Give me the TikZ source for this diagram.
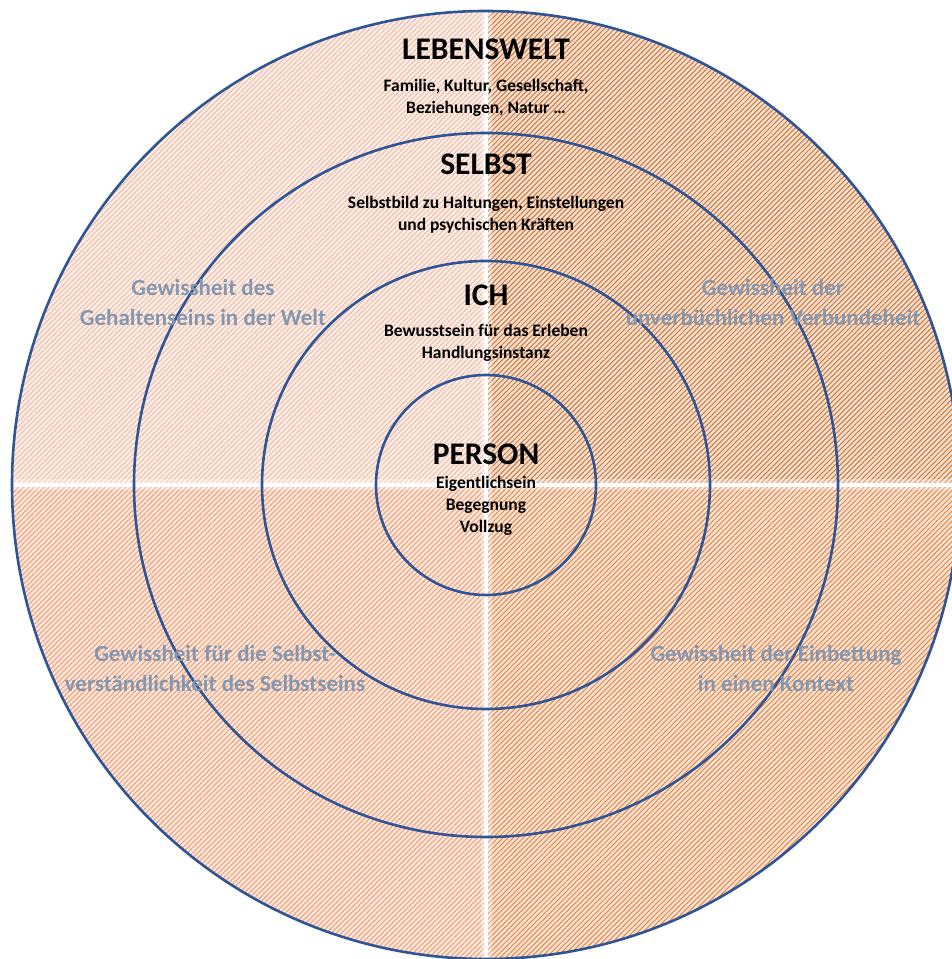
\documentclass[tikz,border=0pt]{standalone}
\usepackage{fontspec}
\setmainfont{Carlito}
\usetikzlibrary{patterns.meta}
\definecolor{ringblue}{HTML}{2F5597}
\definecolor{greytext}{HTML}{8497B0}
\definecolor{tlbg}{HTML}{FCEFE9}
\definecolor{tlst}{HTML}{F0BDA6}
\definecolor{trbg}{HTML}{F8DFCD}
\definecolor{trst}{HTML}{C97D46}
\definecolor{blbg}{HTML}{FCE7DB}
\definecolor{blst}{HTML}{EEA07B}
\definecolor{brbg}{HTML}{FAE3D1}
\definecolor{brst}{HTML}{E28A52}
\tikzset{
  quad/.style 2 args={fill=#1, postaction={pattern={Lines[angle=45,distance=3.6pt,line width=1.05pt]}, pattern color=#2}},
  ring/.style={draw=ringblue, line width=2.6pt},
  title/.style={font=\bfseries\fontsize{31.5}{36}\selectfont, text=black, inner sep=0pt},
  desc/.style={font=\bfseries\fontsize{17.5}{22}\selectfont, text=black, align=center, inner sep=0pt},
  certainty/.style={font=\bfseries\fontsize{23}{30}\selectfont, text=greytext, align=center, inner sep=0pt},
}
\begin{document}
\begin{tikzpicture}[x=1pt,y=1pt]
\useasboundingbox (0,0) rectangle (952,959);
\coordinate (C) at (486,474);
\coordinate (W) at (12,474);
\coordinate (E) at (960,474);
\coordinate (N) at (486,948);
\coordinate (S) at (486,0);
% quadrants
\path[quad={tlbg}{tlst}] (C) -- (W) arc[start angle=180,end angle=90,radius=474] -- cycle;
\path[quad={trbg}{trst}] (C) -- (N) arc[start angle=90,end angle=0,radius=474] -- cycle;
\path[quad={blbg}{blst}] (C) -- (S) arc[start angle=270,end angle=180,radius=474] -- cycle;
\path[quad={brbg}{brst}] (C) -- (E) arc[start angle=0,end angle=-90,radius=474] -- cycle;
% white cross with soft glow
\draw[white, opacity=0.3, line width=11pt] (W) -- (E);
\draw[white, opacity=0.3, line width=11pt] (N) -- (S);
\draw[white, line width=4pt] (W) -- (E);
\draw[white, line width=4pt] (N) -- (S);
% rings
\node[ring, circle, minimum size=948pt, inner sep=0pt] (lebenswelt) at (C) {};
\node[ring, circle, minimum size=704pt, inner sep=0pt] (selbst) at (C) {};
\node[ring, circle, minimum size=448pt, inner sep=0pt] (ich) at (C) {};
\node[ring, circle, minimum size=220pt, inner sep=0pt] (person) at (C) {};
% texts
\node[title] (tLeb) at (486,910) {LEBENSWELT};
\node[desc] (dLeb) at (486,861) {Familie, Kultur, Gesellschaft,\\Beziehungen, Natur …};
\node[title] (tSel) at (486,795) {SELBST};
\node[desc] (dSel) at (486,744) {Selbstbild zu Haltungen, Einstellungen\\und psychischen Kräften};
\node[title] (tIch) at (486,664) {ICH};
\node[desc] (dIch) at (486,616) {Bewusstsein für das Erleben\\Handlungsinstanz};
\node[title] (tPer) at (486,505) {PERSON};
\node[desc] (dPer) at (486,453) {Eigentlichsein\\Begegnung\\Vollzug};
\node[certainty] (gTL) at (203,656.5) {Gewissheit des\\Gehaltenseins in der Welt};
\node[certainty] (gTR) at (773,656.5) {Gewissheit der\\unverbüchlichen Verbundeheit};
\node[certainty] (gBL) at (215,290) {Gewissheit für die Selbst-\\verständlichkeit des Selbstseins};
\node[certainty] (gBR) at (776,290) {Gewissheit der Einbettung\\in einen Kontext};
\end{tikzpicture}
\end{document}
